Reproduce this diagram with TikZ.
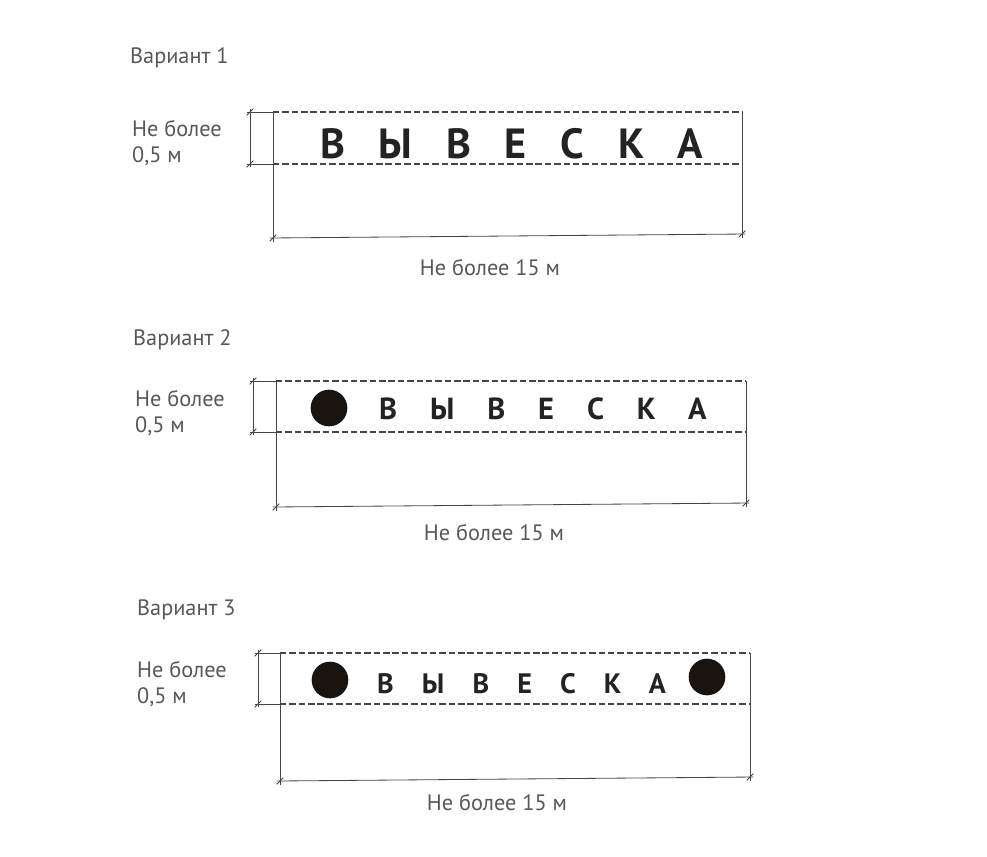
\documentclass[tikz,border=0pt]{standalone}
\usepackage{fontspec}
\setmainfont{PT Sans}
\newfontfamily\signbig{PT Sans}[LetterSpace=80]
\newfontfamily\signsmall{PT Sans}[LetterSpace=108]
\newfontfamily\signsmaller{PT Sans}[LetterSpace=100]

\definecolor{textgray}{RGB}{88,88,88}
\definecolor{linegray}{RGB}{70,70,70}
\definecolor{dotblack}{RGB}{26,20,16}
\definecolor{inkblack}{RGB}{35,35,35}

\tikzset{
  dimline/.style={draw=linegray, line width=0.7pt},
  signedge/.style={draw=linegray, line width=1pt, dash pattern=on 5.5pt off 2.5pt},
  caption/.style={text=textgray, font=\fontsize{19}{22.2}\selectfont, inner sep=0pt},
  sizelabel/.style={caption, align=left, anchor=west},
  signtext/.style={text=inkblack, inner sep=0pt, anchor=base west},
  marker/.style={circle, fill=dotblack, inner sep=0pt, minimum size=1.1cm}
}

\newcommand{\dimtick}[1]{\draw[dimline] ([shift={(-0.1cm,-0.1cm)}]#1) -- ([shift={(0.1cm,0.1cm)}]#1);}

\begin{document}
\begin{tikzpicture}[x=0.03cm, y=-0.03cm]
\fill[white] (0,0) rectangle (987,856);
\useasboundingbox (0,0) rectangle (987,856);

% Variant 1
\node[caption, anchor=west] (v1title) at (130,58) {Вариант 1};
\coordinate (v1tl) at (273,112);
\coordinate (v1tr) at (742,112);
\coordinate (v1bl) at (273,164);
\coordinate (v1br) at (742,164);
\coordinate (v1dl) at (273,238);
\coordinate (v1dr) at (742,234);
\coordinate (v1ht) at (250,112);
\coordinate (v1hb) at (250,164);
\draw[signedge] (v1tl) -- (v1tr);
\draw[signedge] (v1bl) -- (v1br);
\draw[dimline] (v1tl) -- ([yshift=-0.12cm]v1dl);
\draw[dimline] (v1tr) -- ([yshift=-0.12cm]v1dr);
\draw[dimline] ([xshift=-0.1cm]v1dl) -- ([xshift=0.1cm]v1dr);
\draw[dimline] ([xshift=-0.1cm]v1ht) -- (v1tl);
\draw[dimline] ([xshift=-0.1cm]v1hb) -- (v1bl);
\draw[dimline] ([yshift=0.1cm]v1ht) -- ([yshift=-0.1cm]v1hb);
\dimtick{v1dl} \dimtick{v1dr} \dimtick{v1ht} \dimtick{v1hb}
\node[signtext, font=\signbig\bfseries\fontsize{36}{40}\selectfont] (v1sign) at (320,158) {ВЫВЕСКА};
\node[sizelabel] (v1height) at (132,143) {Не более\\0,5 м};
\node[caption] (v1width) at (490,268) {Не более 15 м};

% Variant 2
\node[caption, anchor=west] (v2title) at (133,340) {Вариант 2};
\coordinate (v2tl) at (276,381);
\coordinate (v2tr) at (746,381);
\coordinate (v2bl) at (276,432);
\coordinate (v2br) at (746,432);
\coordinate (v2dl) at (276,507);
\coordinate (v2dr) at (746,503);
\coordinate (v2ht) at (253,381);
\coordinate (v2hb) at (253,432);
\draw[signedge] (v2tl) -- (v2tr);
\draw[signedge] (v2bl) -- (v2br);
\draw[dimline] (v2tl) -- ([yshift=-0.12cm]v2dl);
\draw[dimline] (v2tr) -- ([yshift=-0.12cm]v2dr);
\draw[dimline] ([xshift=-0.1cm]v2dl) -- ([xshift=0.1cm]v2dr);
\draw[dimline] ([xshift=-0.1cm]v2ht) -- (v2tl);
\draw[dimline] ([xshift=-0.1cm]v2hb) -- (v2bl);
\draw[dimline] ([yshift=0.1cm]v2ht) -- ([yshift=-0.1cm]v2hb);
\dimtick{v2dl} \dimtick{v2dr} \dimtick{v2ht} \dimtick{v2hb}
\node[marker] (v2dot) at (329,408) {};
\node[signtext, font=\signsmall\bfseries\fontsize{26}{30}\selectfont] (v2sign) at (379,419) {ВЫВЕСКА};
\node[sizelabel] (v2height) at (135,413) {Не более\\0,5 м};
\node[caption] (v2width) at (494,533) {Не более 15 м};

% Variant 3
\node[caption, anchor=west] (v3title) at (137,610) {Вариант 3};
\coordinate (v3tl) at (280,653);
\coordinate (v3tr) at (750,653);
\coordinate (v3bl) at (280,704);
\coordinate (v3br) at (750,704);
\coordinate (v3dl) at (280,781);
\coordinate (v3dr) at (750,777);
\coordinate (v3ht) at (258,653);
\coordinate (v3hb) at (258,704);
\draw[signedge] (v3tl) -- (v3tr);
\draw[signedge] (v3bl) -- (v3br);
\draw[dimline] (v3tl) -- ([yshift=-0.12cm]v3dl);
\draw[dimline] (v3tr) -- ([yshift=-0.12cm]v3dr);
\draw[dimline] ([xshift=-0.1cm]v3dl) -- ([xshift=0.1cm]v3dr);
\draw[dimline] ([xshift=-0.1cm]v3ht) -- (v3tl);
\draw[dimline] ([xshift=-0.1cm]v3hb) -- (v3bl);
\draw[dimline] ([yshift=0.1cm]v3ht) -- ([yshift=-0.1cm]v3hb);
\dimtick{v3dl} \dimtick{v3dr} \dimtick{v3ht} \dimtick{v3hb}
\node[marker] (v3dotl) at (330,680) {};
\node[marker] (v3dotr) at (707,677) {};
\node[signtext, font=\signsmaller\bfseries\fontsize{24}{28}\selectfont] (v3sign) at (377,693) {ВЫВЕСКА};
\node[sizelabel] (v3height) at (137,684) {Не более\\0,5 м};
\node[caption] (v3width) at (497,803) {Не более 15 м};
\end{tikzpicture}
\end{document}
